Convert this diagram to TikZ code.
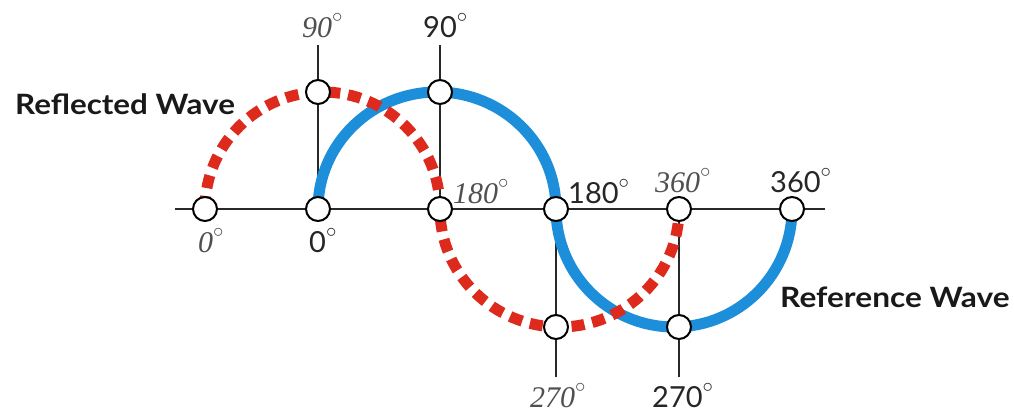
\documentclass[tikz,border=0pt]{standalone}
\usepackage{fontspec}
\usepackage{graphicx}
\setmainfont{Liberation Serif}
\newfontfamily\lab{Lato}
\definecolor{wblue}{RGB}{28,142,218}
\definecolor{wred}{RGB}{222,42,28}
\definecolor{axisc}{RGB}{40,40,40}
\definecolor{itc}{RGB}{80,80,80}
\tikzset{
  pt/.style={circle,draw=black,fill=white,line width=2pt,minimum size=24pt,inner sep=0pt},
  axisline/.style={draw=axisc,line width=2pt},
  refw/.style={draw=wblue,line width=11pt},
  reflw/.style={draw=wred,line width=11pt,dash pattern=on 13pt off 8pt},
  itlab/.style={inner sep=0pt,anchor=base west,text=itc,font=\fontsize{30}{30}\selectfont\itshape},
  uplab/.style={inner sep=0pt,anchor=base west,text=black!85,font=\fontsize{29}{29}\selectfont\lab},
  title/.style={inner sep=0pt,anchor=base west,text=black!90,font=\fontsize{28}{28}\selectfont\lab\bfseries}
}
\newcommand{\dg}{\raisebox{15pt}{\fontsize{21}{21}\selectfont$\circ$}}
\begin{document}
\begin{tikzpicture}[x=1pt,y=1pt]
\useasboundingbox (0,0) rectangle (1014,413);
% coordinates
\coordinate (axL) at (175,204);
\coordinate (axR) at (825,204);
\coordinate (t90r) at (318,368);
\coordinate (t90b) at (440,368);
\coordinate (b270r) at (556,36);
\coordinate (b270b) at (679,36);
% axis and guide lines
\draw[axisline] (axL) -- (axR);
\draw[axisline] (318,204) -- (t90r);
\draw[axisline] (440,204) -- (t90b);
\draw[axisline] (556,204) -- (b270r);
\draw[axisline] (679,204) -- (b270b);
% waves
\draw[refw] (318,204) arc[start angle=180,end angle=0,x radius=119,y radius=117]
                   arc[start angle=180,end angle=360,x radius=118,y radius=118];
\draw[reflw] (205,204) arc[start angle=180,end angle=0,x radius=117.5,y radius=117]
                    arc[start angle=180,end angle=360,x radius=119.5,y radius=118];
% points
\node[pt] (c0r) at (205,204) {};
\node[pt] (c0b) at (318,204) {};
\node[pt] (c180r) at (440,204) {};
\node[pt] (c180b) at (556,204) {};
\node[pt] (c360r) at (679,204) {};
\node[pt] (c360b) at (792,204) {};
\node[pt] (c90r) at (318,321) {};
\node[pt] (c90b) at (440,321) {};
\node[pt] (c270r) at (556,86) {};
\node[pt] (c270b) at (679,86) {};
% labels
\node[itlab] (l90r) at (302,375) {90\dg};
\node[uplab] (l90b) at (423,375) {90\dg};
\node[itlab] (l180r) at (453,210) {180\dg};
\node[uplab] (l180b) at (568,210) {180\dg};
\node[itlab] (l360r) at (655,221) {360\dg};
\node[uplab] (l360b) at (770,221) {360\dg};
\node[itlab] (l0r) at (198,161) {0\dg};
\node[uplab] (l0b) at (309,161) {0\dg};
\node[itlab] (l270r) at (530,6) {270\dg};
\node[uplab] (l270b) at (652,6) {270\dg};
\node[title] (refl) at (15,298) {\scalebox{1.12}[1]{Reflected Wave}};
\node[title] (ref) at (780,106) {\scalebox{1.13}[1]{Reference Wave}};
\end{tikzpicture}
\end{document}
